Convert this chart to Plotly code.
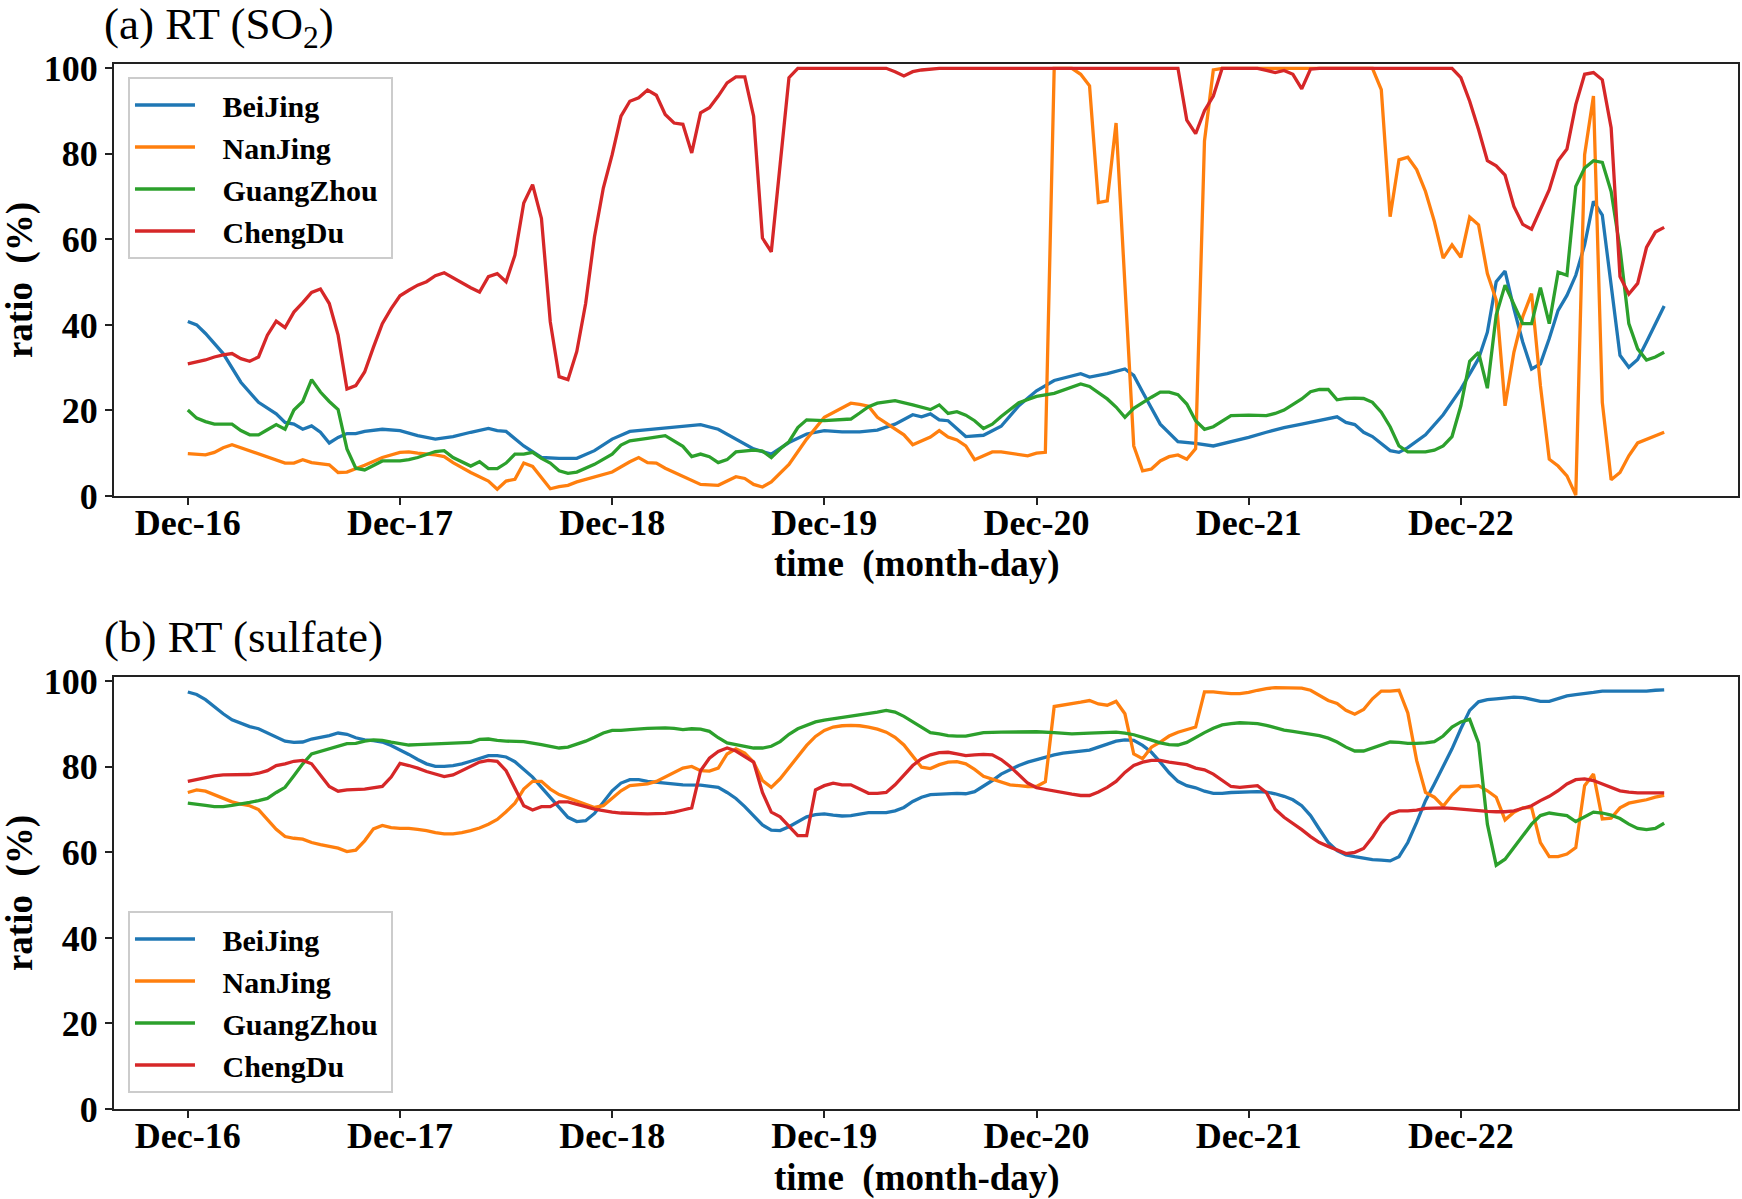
import plotly.graph_objects as go

# ---------------- data ----------------
DAY_LABELS = ["Dec-16", "Dec-17", "Dec-18", "Dec-19", "Dec-20", "Dec-21", "Dec-22"]
CITIES = ["BeiJing", "NanJing", "GuangZhou", "ChengDu"]
COLORS = ["#1f77b4", "#ff7f0e", "#2ca02c", "#d62728"]

# (a) SO2 — hours since Dec-16 00:00 and ratio (%)
BJ_SO2_H = [0, 1, 2, 4, 6, 8, 10, 11, 12, 13, 14, 15, 16, 17, 18, 19, 20, 22, 24, 26, 28, 30, 32, 34, 35, 36, 38, 40, 42, 44, 46, 48, 50, 52, 54, 56, 58, 60, 62, 64, 66, 68, 70, 72, 74, 76, 78, 80, 82, 83, 84, 85, 86, 88, 90, 92, 94, 96, 98, 100, 101, 102, 104, 106, 107, 108, 110, 112, 114, 116, 118, 120, 122, 124, 126, 128, 130, 131, 132, 133, 134, 136, 137, 138, 140, 142, 144, 146, 147, 148, 149, 150, 151, 152, 153, 154, 155, 156, 157, 158, 159, 160, 161, 162, 163, 164, 165, 166, 167]
BJ_SO2_V = [40.8, 40.0, 38.0, 33.3, 26.6, 21.9, 19.2, 17.2, 16.8, 15.6, 16.4, 14.9, 12.4, 13.7, 14.6, 14.6, 15.1, 15.6, 15.3, 14.1, 13.3, 13.9, 14.9, 15.8, 15.3, 15.1, 11.7, 9.0, 8.8, 8.8, 10.6, 13.3, 15.1, 15.5, 15.9, 16.4, 16.7, 15.6, 13.3, 11.0, 9.8, 12.5, 14.5, 15.3, 15.0, 15.0, 15.4, 16.8, 19.0, 18.5, 19.2, 17.8, 17.6, 13.9, 14.2, 16.3, 21.1, 24.6, 27.0, 28.2, 28.6, 27.8, 28.6, 29.7, 28.2, 24.3, 16.8, 12.7, 12.3, 11.7, 12.7, 13.7, 14.9, 16.0, 16.8, 17.6, 18.5, 17.2, 16.7, 14.9, 13.9, 10.6, 10.2, 11.3, 14.3, 19.0, 25.0, 32.1, 38.3, 50.1, 52.6, 43.8, 36.0, 29.7, 30.9, 36.8, 43.4, 46.9, 51.6, 58.7, 68.9, 65.7, 48.5, 32.9, 30.1, 31.9, 36.0, 40.3, 44.4]

NJ_SO2_H = [0, 2, 3, 4, 5, 6, 8, 10, 11, 12, 13, 14, 16, 17, 18, 20, 22, 24, 25, 26, 28, 29, 30, 32, 34, 35, 36, 37, 38, 39, 40, 41, 42, 43, 44, 46, 48, 50, 51, 52, 53, 54, 56, 58, 60, 62, 63, 64, 65, 66, 68, 70, 72, 74, 75, 76, 77, 78, 80, 81, 82, 84, 85, 86, 87, 88, 89, 90, 91, 92, 94, 95, 96, 97, 98, 100, 101, 102, 103, 104, 105, 107, 108, 109, 110, 111, 112, 113, 114, 115, 116, 117, 134, 135, 136, 137, 138, 139, 140, 141, 142, 143, 144, 145, 146, 147, 148, 149, 150, 151, 152, 153, 154, 155, 156, 157, 158, 159, 160, 161, 162, 163, 164, 165, 166, 167]
NJ_SO2_V = [9.9, 9.6, 10.2, 11.3, 12.0, 11.3, 9.9, 8.6, 7.7, 7.7, 8.5, 7.8, 7.3, 5.5, 5.6, 7.2, 9.0, 10.2, 10.3, 10.0, 9.6, 9.2, 7.8, 5.5, 3.5, 1.6, 3.5, 3.9, 7.7, 6.9, 4.3, 1.7, 2.2, 2.5, 3.3, 4.5, 5.6, 8.0, 9.0, 7.8, 7.7, 6.5, 4.5, 2.7, 2.5, 4.5, 4.1, 2.7, 2.1, 3.3, 7.4, 13.3, 18.4, 20.7, 21.7, 21.4, 21.0, 18.4, 15.6, 14.3, 12.0, 13.8, 15.3, 13.8, 13.1, 11.7, 8.5, 9.5, 10.3, 10.3, 9.8, 9.4, 10.0, 10.2, 100.0, 100.0, 98.6, 95.9, 68.6, 69.0, 87.2, 11.7, 5.9, 6.3, 8.2, 9.2, 9.6, 8.6, 11.1, 83.0, 99.6, 100.0, 100.0, 95.0, 65.3, 78.6, 79.2, 76.3, 71.2, 64.2, 55.6, 58.7, 55.8, 65.2, 63.4, 52.0, 45.8, 21.1, 33.6, 41.9, 47.3, 25.8, 8.6, 7.0, 4.7, 0.2, 79.8, 93.5, 21.9, 3.8, 5.5, 9.4, 12.4, 13.3, 14.1, 14.9]

GZ_SO2_H = [0, 1, 2, 3, 5, 6, 7, 8, 9, 10, 11, 12, 13, 14, 15, 16, 17, 18, 19, 20, 22, 24, 25, 26, 28, 29, 30, 32, 33, 34, 35, 36, 37, 38, 39, 40, 41, 42, 43, 44, 46, 48, 49, 50, 52, 54, 56, 57, 58, 59, 60, 61, 62, 64, 65, 66, 67, 68, 69, 70, 72, 74, 75, 76, 77, 78, 80, 82, 84, 85, 86, 87, 88, 89, 90, 91, 92, 94, 96, 98, 100, 101, 102, 104, 105, 106, 107, 108, 109, 110, 111, 112, 113, 114, 115, 116, 117, 118, 120, 122, 123, 124, 126, 127, 128, 129, 130, 131, 132, 133, 134, 135, 136, 137, 138, 140, 141, 142, 143, 144, 145, 146, 147, 148, 149, 150, 151, 152, 153, 154, 155, 156, 157, 158, 159, 160, 161, 162, 163, 164, 165, 166, 167]
GZ_SO2_V = [20.1, 18.2, 17.4, 16.8, 16.8, 15.3, 14.3, 14.3, 15.5, 16.7, 15.6, 20.1, 22.1, 27.2, 24.3, 22.1, 20.2, 11.0, 6.5, 6.1, 8.2, 8.2, 8.5, 9.0, 10.4, 10.6, 9.0, 7.0, 8.0, 6.4, 6.4, 7.7, 9.8, 9.8, 10.2, 8.8, 7.7, 5.9, 5.3, 5.6, 7.4, 9.8, 11.9, 12.9, 13.5, 14.1, 11.6, 9.2, 9.8, 9.2, 7.8, 8.5, 10.3, 10.7, 10.5, 9.0, 11.0, 12.7, 16.0, 17.8, 17.6, 17.8, 18.0, 19.4, 20.9, 21.7, 22.3, 21.3, 20.2, 21.3, 19.3, 19.7, 18.9, 17.6, 15.8, 16.8, 18.6, 21.8, 23.3, 24.0, 25.6, 26.2, 25.6, 22.7, 20.8, 18.4, 20.5, 21.9, 23.1, 24.3, 24.3, 23.7, 21.5, 17.6, 15.6, 16.2, 17.6, 18.8, 18.9, 18.8, 19.3, 20.1, 22.7, 24.4, 24.9, 24.9, 22.5, 22.8, 22.9, 22.8, 21.9, 19.6, 16.2, 11.7, 10.3, 10.3, 10.7, 11.7, 13.9, 21.1, 31.5, 33.6, 25.2, 42.3, 49.3, 44.6, 40.3, 40.3, 48.7, 40.3, 52.3, 51.6, 72.4, 76.7, 78.4, 78.0, 71.2, 57.9, 40.3, 34.4, 31.8, 32.5, 33.6]

CD_SO2_H = [0, 1, 2, 3, 4, 5, 6, 7, 8, 9, 10, 11, 12, 13, 14, 15, 16, 17, 18, 19, 20, 21, 22, 23, 24, 25, 26, 27, 28, 29, 30, 31, 32, 33, 34, 35, 36, 37, 38, 39, 40, 41, 42, 43, 44, 45, 46, 47, 48, 49, 50, 51, 52, 53, 54, 55, 56, 57, 58, 59, 60, 61, 62, 63, 64, 65, 66, 67, 68, 69, 79, 80, 81, 82, 83, 85, 112, 113, 114, 115, 116, 117, 121, 122, 123, 124, 125, 126, 127, 128, 143, 144, 145, 146, 147, 148, 149, 150, 151, 152, 153, 154, 155, 156, 157, 158, 159, 160, 161, 162, 163, 164, 165, 166, 167]
CD_SO2_V = [30.9, 31.3, 31.8, 32.5, 33.0, 33.3, 32.1, 31.5, 32.5, 37.6, 40.9, 39.4, 43.0, 45.2, 47.6, 48.4, 45.0, 37.6, 25.0, 25.8, 29.0, 34.8, 40.3, 43.8, 46.8, 48.1, 49.3, 50.1, 51.5, 52.2, 51.0, 49.8, 48.7, 47.7, 51.3, 52.0, 50.1, 56.3, 68.5, 72.8, 64.9, 40.7, 27.9, 27.2, 33.8, 45.0, 60.6, 72.0, 79.8, 88.8, 92.3, 93.1, 94.9, 93.7, 89.2, 87.2, 86.9, 80.2, 89.6, 90.8, 93.5, 96.6, 98.0, 98.0, 88.8, 60.3, 57.1, 77.5, 97.8, 100.0, 100.0, 99.2, 98.2, 99.2, 99.6, 100.0, 100.0, 87.9, 84.7, 90.1, 93.5, 100.0, 100.0, 99.5, 99.0, 99.5, 98.6, 95.2, 99.8, 100.0, 100.0, 97.8, 92.3, 85.7, 78.4, 77.2, 75.0, 67.7, 63.5, 62.4, 66.9, 71.6, 78.4, 81.1, 91.5, 98.6, 99.0, 97.3, 86.1, 51.3, 47.2, 49.7, 58.1, 61.7, 62.8]

# (b) sulfate — hours since Dec-16 00:00 and ratio (%)
BJ_SUL_H = list(range(0, 53)) + [54, 56, 58] + list(range(60, 78)) + list(range(79, 85)) + list(range(87, 163)) + list(range(164, 168))
BJ_SUL_V = [97.5, 96.9, 95.7, 94.0, 92.4, 91.0, 90.1, 89.4, 88.9, 88.0, 86.9, 86.0, 85.7, 85.8, 86.5, 86.9, 87.3, 87.9, 87.6, 86.8, 86.3, 86.1, 85.8, 85.0, 84.0, 82.9, 81.7, 80.7, 80.1, 80.1, 80.3, 80.7, 81.3, 82.0, 82.6, 82.6, 82.3, 81.2, 79.5, 77.6, 75.2, 72.9, 70.5, 68.2, 67.2, 67.4, 69.1, 71.9, 74.4, 76.2, 77.0, 77.0, 76.6,
            76.2, 75.8, 75.7,
            75.2, 74.0, 72.6, 70.7, 68.6, 66.4, 65.2, 65.1, 66.0, 67.2, 68.3, 68.8, 69.0, 68.7, 68.5, 68.6, 69.0, 69.3,
            69.3, 69.7, 70.5, 71.9, 72.9, 73.5,
            73.8, 73.7, 74.2, 75.4, 76.8, 78.3, 79.4, 80.3, 81.1, 81.7, 82.3, 82.8, 83.2, 83.4, 83.7, 83.9, 84.6, 85.2, 86.0, 86.3, 86.2, 85.0, 83.4, 81.1, 78.6, 76.6, 75.6, 75.1, 74.3, 73.8, 73.8, 74.0, 74.1, 74.2, 74.2, 74.1, 73.7, 73.1, 72.3, 70.9, 68.6, 65.4, 62.3, 60.4, 59.4, 59.0, 58.6, 58.3, 58.2, 58.0, 59.0, 62.3, 67.0, 72.1, 76.0, 79.9, 84.2, 88.9, 93.2, 95.2, 95.7, 95.9, 96.1, 96.3, 96.2, 95.8, 95.3, 95.3, 96.0, 96.6, 96.9, 97.1, 97.4, 97.7, 97.7, 97.6,
            97.6, 97.7, 97.9, 98.0]

NJ_SUL_H = list(range(0, 168))
NJ_SUL_V = [74.0, 74.6, 74.3, 73.4, 72.6, 71.8, 71.3, 70.9, 70.0, 67.8, 65.4, 63.7, 63.3, 63.1, 62.3, 61.8, 61.4, 61.0, 60.2, 60.5, 62.7, 65.5, 66.3, 65.8, 65.6, 65.6, 65.4, 65.1, 64.6, 64.3, 64.3, 64.6, 65.1, 65.7, 66.6, 67.7, 69.5, 71.5, 74.8, 76.6, 76.6, 74.8, 73.5, 72.7, 71.9, 71.2, 70.5, 70.9, 72.7, 74.4, 75.6, 75.8, 76.0, 76.6, 77.6, 78.7, 79.7, 80.1, 79.1, 79.0, 79.7, 83.0, 84.2, 83.2, 81.1, 76.8, 75.2, 77.2, 79.9, 82.5, 85.0, 87.1, 88.5, 89.3, 89.6, 89.7, 89.6, 89.3, 88.8, 88.1, 86.9, 85.1, 82.4, 79.9, 79.6, 80.5, 81.1, 81.2, 80.7, 79.4, 77.8, 77.1, 76.4, 75.8, 75.6, 75.4, 75.4, 76.5, 94.1, 94.4, 94.8, 95.1, 95.5, 94.7, 94.4, 95.3, 92.4, 83.0, 81.9, 84.6, 85.8, 87.2, 88.1, 88.7, 89.3, 97.5, 97.5, 97.3, 97.1, 97.1, 97.4, 97.9, 98.3, 98.5, 98.5, 98.5, 98.4, 97.9, 96.7, 95.5, 94.8, 93.2, 92.3, 93.4, 95.9, 97.7, 97.7, 97.9, 92.6, 81.5, 74.0, 72.9, 70.8, 73.4, 75.4, 75.4, 75.6, 74.4, 72.9, 67.6, 69.4, 70.4, 70.5, 62.3, 59.0, 59.0, 59.6, 61.1, 75.6, 78.3, 67.8, 68.0, 70.4, 71.5, 71.9, 72.3, 72.9, 73.3]

GZ_SUL_H = list(range(0, 27)) + [28, 30, 32, 33, 34, 35, 36] + list(range(38, 53)) + list(range(54, 91)) + [92, 94, 96, 98, 100] + list(range(102, 168))
GZ_SUL_V = [71.5, 71.3, 71.0, 70.7, 70.7, 71.0, 71.3, 71.7, 72.1, 72.6, 74.0, 75.2, 77.9, 80.7, 83.0, 83.6, 84.2, 85.0, 85.4, 85.5, 86.0, 86.3, 86.2, 85.8, 85.4, 85.1, 85.2,
            85.4, 85.5, 85.7, 86.4, 86.5, 86.2, 86.0,
            85.9, 85.6, 85.2, 84.8, 84.4, 84.6, 85.2, 86.0, 86.9, 87.9, 88.5, 88.5, 88.7, 88.9, 89.0,
            89.1, 89.0, 88.7, 88.9, 88.8, 88.3, 86.8, 85.6, 85.2, 84.8, 84.4, 84.4, 84.8, 85.9, 87.6, 88.9, 89.8, 90.5, 90.9, 91.2, 91.6, 91.9, 92.1, 92.4, 92.8, 93.2, 92.8, 91.8, 90.5, 89.1, 88.0, 87.7, 87.3, 87.2, 87.2, 87.6, 88.0,
            88.1, 88.1, 88.2, 88.0, 87.7,
            87.9, 88.0, 88.1, 88.1, 87.9, 87.5, 86.9, 86.2, 85.6, 85.2, 85.1, 85.7, 86.9, 88.0, 89.0, 89.8, 90.1, 90.3, 90.2, 90.1, 89.7, 89.1, 88.6, 88.3, 88.0, 87.7, 87.3, 86.7, 85.8, 84.6, 83.7, 83.7, 84.4, 85.1, 85.8, 85.7, 85.5, 85.5, 85.6, 85.9, 87.2, 89.3, 90.5, 91.1, 85.6, 66.6, 57.0, 58.4, 61.1, 63.9, 66.6, 68.6, 69.2, 68.9, 68.6, 67.2, 68.4, 69.4, 69.2, 68.7, 67.9, 66.6, 65.6, 65.3, 65.6, 66.8]

CD_SUL_H = list(range(0, 5)) + list(range(6, 19)) + [20] + list(range(22, 51)) + [52] + list(range(54, 165)) + [167]
CD_SUL_V = [76.6, 77.1, 77.6, 77.9, 78.1,
            78.1, 78.2, 78.5, 79.1, 80.3, 80.7, 81.3, 81.5, 80.7, 78.0, 75.4, 74.3, 74.6,
            74.8,
            75.4, 77.6, 80.8, 80.3, 79.7, 78.9, 78.2, 77.7, 78.1, 79.1, 80.1, 81.1, 81.5, 81.3, 79.1, 74.8, 70.9, 69.9, 70.7, 70.7, 71.8, 71.8, 71.3, 70.7, 70.1, 69.7, 69.4, 69.2, 69.1,
            69.0,
            69.1, 69.4, 69.9, 70.4, 79.1, 82.0, 83.6, 84.4, 83.7, 82.4, 81.1, 74.0, 69.4, 68.3, 66.1, 63.9, 63.9, 74.6, 75.6, 76.2, 75.8, 75.8, 74.8, 73.8, 73.8, 74.0, 75.8, 78.0, 80.3, 81.9, 82.8, 83.3, 83.4, 83.0, 82.6, 82.8, 82.9, 82.8, 81.7, 80.1, 78.2, 76.2, 75.1, 74.7, 74.4, 74.0, 73.6, 73.3, 73.3, 74.1, 75.2, 76.6, 78.7, 80.3, 81.1, 81.5, 81.5, 81.1, 80.8, 80.5, 79.7, 79.3, 78.3, 76.9, 75.4, 75.2, 75.4, 75.6, 74.0, 70.1, 68.2, 66.8, 65.3, 63.7, 62.3, 61.4, 60.6, 59.7, 60.0, 60.9, 63.5, 66.8, 69.0, 69.7, 69.7, 69.9, 70.3, 70.4, 70.4, 70.3, 70.1, 69.9, 69.7, 69.6, 69.5, 69.5, 69.7, 70.3, 70.9, 72.1, 73.1, 74.4, 76.0, 77.0, 77.2, 76.8, 76.0, 75.2, 74.4, 74.1, 73.9,
            73.9]

PANEL_A = [(BJ_SO2_H, BJ_SO2_V), (NJ_SO2_H, NJ_SO2_V), (GZ_SO2_H, GZ_SO2_V), (CD_SO2_H, CD_SO2_V)]
PANEL_B = [(BJ_SUL_H, BJ_SUL_V), (NJ_SUL_H, NJ_SUL_V), (GZ_SUL_H, GZ_SUL_V), (CD_SUL_H, CD_SUL_V)]

# ---------------- figure ----------------
SERIF = "Liberation Serif"
NB = "\u00a0"
fig = go.Figure()


def legend_name(city):
    return NB * 3 + city + NB


for i, (h, v) in enumerate(PANEL_A):
    fig.add_trace(go.Scatter(x=h, y=v, mode="lines", name=legend_name(CITIES[i]),
                             line=dict(color=COLORS[i], width=3.3),
                             xaxis="x", yaxis="y", legend="legend"))
for i, (h, v) in enumerate(PANEL_B):
    fig.add_trace(go.Scatter(x=h, y=v, mode="lines", name=legend_name(CITIES[i]),
                             line=dict(color=COLORS[i], width=3.3),
                             xaxis="x2", yaxis="y2", legend="legend2"))

W, H = 1742, 1199
ML, MR, MT, MB = 114, 2, 64, 90
PW, PH = W - ML - MR, H - MT - MB


def px(xp):
    return (xp - ML) / PW


def py(yp):
    return (H - MB - yp) / PH


tick_font = dict(family=SERIF, size=36, color="black", weight="bold")
xcommon = dict(range=[-8.35, 175.35], tickmode="array",
               tickvals=[24 * i for i in range(len(DAY_LABELS))], ticktext=DAY_LABELS,
               showgrid=False, zeroline=False, showline=True, mirror=True,
               linecolor="#222222", linewidth=2, ticks="outside", ticklen=7,
               tickwidth=2, tickcolor="#222222", tickfont=tick_font,
               ticklabelstandoff=-13)
ycommon = dict(range=[0, 101], tickmode="array", tickvals=[0, 20, 40, 60, 80, 100],
               showgrid=False, zeroline=False, showline=True, mirror=True,
               linecolor="#222222", linewidth=2, ticks="outside", ticklen=7,
               tickwidth=2, tickcolor="#222222", tickfont=tick_font)

legend_common = dict(bgcolor="rgba(255,255,255,0.85)", bordercolor="#cccccc", borderwidth=2,
                     font=dict(family=SERIF, size=30, color="black", weight="bold"),
                     xanchor="left", yanchor="top", itemwidth=60, tracegroupgap=0)

fig.update_layout(
    width=W, height=H,
    margin=dict(l=ML, r=MR, t=MT, b=MB),
    paper_bgcolor="white", plot_bgcolor="white",
    xaxis=dict(domain=[0, 1], anchor="y", **xcommon),
    yaxis=dict(domain=[py(496), 1], anchor="x", **ycommon),
    xaxis2=dict(domain=[0, 1], anchor="y2", **xcommon),
    yaxis2=dict(domain=[0, py(677)], anchor="x2", **ycommon),
    legend=dict(x=px(128), y=py(77), **legend_common),
    legend2=dict(x=px(128), y=py(911), **legend_common),
    showlegend=True,
)

title_font = dict(family=SERIF, size=45, color="black")
label_font = dict(family=SERIF, size=37, color="black", weight="bold")
ann = [
    dict(text="(a) RT (SO<sub>2</sub>)", x=px(102), y=py(27), xanchor="left", yanchor="middle", font=title_font),
    dict(text="(b) RT (sulfate)", x=px(102), y=py(637), xanchor="left", yanchor="middle", font=title_font),
    dict(text="time" + NB * 2 + "(month-day)", x=px(918), y=py(564), xanchor="center", yanchor="middle", font=label_font),
    dict(text="time" + NB * 2 + "(month-day)", x=px(918), y=py(1178), xanchor="center", yanchor="middle", font=label_font),
    dict(text="ratio" + NB * 2 + "(%)", x=px(20), y=py(280), xanchor="center", yanchor="middle", textangle=-90, font=label_font),
    dict(text="ratio" + NB * 2 + "(%)", x=px(20), y=py(893), xanchor="center", yanchor="middle", textangle=-90, font=label_font),
]
for a in ann:
    a.update(xref="paper", yref="paper", showarrow=False)
fig.update_layout(annotations=ann)

fig.write_html("out.html",
               config={"displayModeBar": False},
               post_script="document.body.style.margin='0px';document.body.style.overflow='hidden';")
